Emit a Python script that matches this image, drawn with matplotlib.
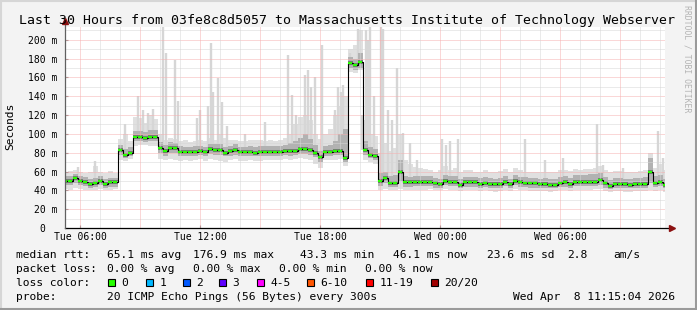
import matplotlib
matplotlib.use("Agg")
import matplotlib.pyplot as plt
import numpy as np
from matplotlib.lines import Line2D
from matplotlib.patches import Rectangle

plt.rcParams['font.family'] = 'DejaVu Sans Mono'

# sample times: hours since Tue 00:00, one sample every 15 min (Tue 05:15 .. Wed 11:15)
t = 5.25 + 0.25 * np.arange(121)

# median rtt (ms)
med = [50, 50, 53, 50, 49, 47, 47.5, 50, 47, 48.5, 48.5,
       83, 78, 80, 97, 97, 95.5, 97, 97, 85, 82,
       85, 85, 81, 81, 81, 81, 82, 80.6, 84, 83,
       83, 80, 82, 83, 80.6, 80.6, 81, 80, 81, 81,
       81, 81, 81, 82, 82, 82, 84, 84, 83, 80,
       75, 81, 81, 82, 82, 74, 175, 173, 176, 83,
       78, 76, 50, 53, 48, 48, 60, 48.5, 48.5, 49,
       49, 49, 49, 47.5, 46.5, 50, 49, 49, 46, 48.5,
       48.5, 48.5, 47, 48, 47, 46.5, 47, 49, 46.5, 50,
       48.6, 48, 47.5, 47.5, 46.5, 47, 46, 46, 48, 48.6,
       47, 49, 49, 49, 49, 49, 51, 47.5, 45, 47,
       47, 46.5, 46, 47, 47, 47, 60, 48, 49, 46]

# dark smoke band around the median
core_lo = [46, 46, 48, 46, 45, 43, 44, 46, 43, 44, 44,
           78, 74, 76, 92, 92, 91, 92, 92, 80, 77,
           80, 80, 77, 77, 77, 77, 78, 76, 79, 78,
           78, 76, 77, 78, 76, 76, 77, 76, 77, 77,
           77, 77, 77, 78, 77, 78, 79, 79, 78, 75,
           70, 77, 77, 78, 78, 70, 170, 168, 170, 78,
           74, 72, 45, 48, 44, 44, 50, 44, 44, 45,
           45, 45, 45, 43, 43, 46, 45, 45, 42, 44,
           44, 44, 43, 44, 43, 42, 43, 45, 42, 46,
           44, 44, 43, 43, 42, 43, 42, 42, 44, 44,
           43, 45, 45, 45, 45, 45, 46, 43, 41, 43,
           43, 42, 42, 43, 43, 43, 48, 44, 45, 42]
core_hi = [55, 55, 57, 55, 54, 52, 53, 55, 52, 53, 53,
           88, 84, 86, 103, 103, 102, 104, 104, 91, 88,
           91, 90, 87, 86, 86, 87, 87, 86, 89, 89,
           89, 86, 87, 89, 86, 86, 87, 86, 87, 87,
           87, 87, 87, 88, 90, 92, 96, 100, 95, 88,
           82, 87, 88, 92, 100, 105, 182, 180, 186, 92,
           86, 84, 58, 60, 55, 56, 72, 55, 54, 55,
           55, 55, 55, 53, 52, 56, 55, 55, 52, 54,
           54, 54, 53, 54, 53, 52, 53, 55, 52, 56,
           54, 54, 53, 53, 52, 53, 52, 52, 54, 55,
           53, 56, 56, 56, 57, 57, 58, 54, 51, 53,
           53, 52, 52, 53, 53, 54, 74, 55, 56, 52]

# light smoke: lowest and (non spike) highest ping
smoke_lo = [41, 40, 42, 41, 40, 40, 40, 41, 40, 40, 41,
            72, 71, 73, 87, 88, 88, 87, 87, 73, 72,
            73, 72, 71, 72, 71, 72, 73, 71, 73, 72,
            71, 70, 72, 73, 71, 71, 72, 71, 71, 72,
            72, 72, 72, 73, 72, 73, 74, 73, 72, 68,
            64, 72, 72, 72, 73, 66, 166, 165, 168, 72,
            70, 68, 40, 41, 40, 40, 41, 40, 40, 40,
            40, 40, 41, 40, 40, 41, 40, 40, 39, 40,
            40, 40, 39, 40, 39, 38, 39, 40, 39, 41,
            40, 40, 39, 39, 39, 39, 38, 39, 40, 40,
            39, 40, 40, 40, 40, 41, 41, 39, 38, 39,
            39, 38, 38, 39, 39, 39, 40, 39, 40, 38]
smoke_hi = [58, 61, 62, 60, 58, 60, 66, 59, 58, 61, 58,
            95, 100, 92, 118, 117, 112, 120, 116, 100, 94,
            96, 95, 92, 93, 91, 92, 93, 92, 96, 94,
            100, 96, 94, 93, 92, 92, 93, 93, 94, 92,
            93, 92, 94, 96, 100, 110, 118, 120, 115, 100,
            95, 100, 105, 120, 130, 140, 190, 195, 210, 115,
            100, 98, 80, 90, 82, 85, 100, 72, 68, 65,
            64, 63, 62, 60, 62, 66, 62, 64, 60, 62,
            62, 60, 60, 62, 60, 60, 61, 63, 60, 64,
            62, 60, 60, 59, 60, 60, 59, 60, 62, 62,
            61, 63, 62, 63, 63, 64, 66, 62, 60, 61,
            61, 60, 60, 60, 61, 62, 80, 64, 68, 62]

# single-ping outliers (spikes)
spike_t = [5.9, 6.75, 8.25, 8.9, 9.15, 9.4, 9.65, 10.15, 10.3, 10.75, 10.9,
           11.85, 12.0, 12.4, 12.55, 12.65, 12.9, 13.1, 13.35, 14.25, 15.25,
           16.4, 16.6, 16.8, 17.25, 17.4, 17.55, 17.75, 18.1, 18.75, 18.9,
           19.05, 19.15, 19.5, 19.9, 20.1, 20.3, 20.4, 20.5, 20.7, 21.05,
           21.15, 21.4, 21.6, 21.85, 22.15, 22.5, 22.85, 24.1, 24.3, 24.5,
           24.9, 28.25, 29.25, 30.15, 31.85, 32.15, 33.15, 34.9, 35.15]
spike_top = [65, 71, 110, 140, 125, 122, 126, 214, 186, 179, 135,
             117, 125, 130, 197, 145, 159, 134, 108, 100, 113,
             184, 141, 120, 163, 168, 150, 160, 195, 125, 150,
             145, 152, 186, 212, 120, 210, 200, 214, 140, 214,
             212, 125, 115, 170, 101, 90, 72, 95, 88, 92,
             95, 95, 72, 74, 111, 67, 64, 103, 74]
spike_lo = [50, 48, 80, 97, 96, 96, 97, 85, 82, 85, 83,
            81, 82, 82, 84, 83, 83, 83, 81, 81, 81,
            82, 82, 82, 84, 84, 83, 80, 78, 82, 82,
            82, 82, 175, 176, 83, 83, 80, 78, 76, 50,
            52, 48, 48, 60, 48, 48, 49, 47, 49, 49,
            46, 48, 47, 48, 50, 48, 46, 48, 46]

xtick_pos = [6, 12, 18, 24, 30]
xtick_labels = ['Tue 06:00', 'Tue 12:00', 'Tue 18:00', 'Wed 00:00', 'Wed 06:00']
ytick_pos = [0, 20, 40, 60, 80, 100, 120, 140, 160, 180, 200]
ytick_labels = ['0  ', '20 m', '40 m', '60 m', '80 m', '100 m', '120 m',
                '140 m', '160 m', '180 m', '200 m']

loss_labels = ['0', '1', '2', '3', '4-5', '6-10', '11-19', '20/20']
loss_colors = ['#26ff00', '#00b8ff', '#0059ff', '#5e00ff', '#ff00ff',
               '#ff5500', '#ff0000', '#a10000']

W, H = 697, 310
fig = plt.figure(figsize=(W / 100, H / 100), dpi=100)
fig.patch.set_facecolor('#f3f3f3')
ax = fig.add_axes([65 / W, 82 / H, 600 / W, 201 / H])
ax.set_facecolor('white')


def fx(x):
    return x / W


def fy(y):
    return 1 - y / H


# smoke
ax.fill_between(t, smoke_lo, smoke_hi, step='mid', color='#e0e0e0', lw=0, zorder=1)
ax.vlines(spike_t, spike_lo, spike_top, color='#d6d6d6', lw=1.7, zorder=1)
ax.fill_between(t, core_lo, core_hi, step='mid', color='#b2b2b2', lw=0, zorder=2)
ax.hlines(med, t - 0.125, t + 0.125, color='#6a6a6a', lw=2.6, zorder=2.5)

# grid
for v in range(10, 214, 10):
    c = '#f7b0b0' if v % 20 == 0 else '#d6d6d6'
    ax.axhline(v, color=c, lw=0.72, ls=(0, (1, 1)), zorder=3)
for h in range(6, 36):
    c = '#f7b0b0' if h % 3 == 0 else '#d6d6d6'
    ax.axvline(h, color=c, lw=0.72, ls=(0, (1, 1)), zorder=3)

# median
ax.plot(t, med, drawstyle='steps-mid', color='black', lw=0.8, zorder=5)
ax.hlines(med, t - 0.09, t + 0.09, color=loss_colors[0], lw=1.6, zorder=6)

ax.set_xlim(5.25, 35.25)
ax.set_ylim(0, 213.6)
ax.set_xticks(xtick_pos)
ax.set_xticklabels(xtick_labels)
ax.set_yticks(ytick_pos)
ax.set_yticklabels(ytick_labels)
ax.tick_params(axis='x', direction='in', length=2, pad=2.7, labelsize=7, color='#808080')
ax.tick_params(axis='y', direction='in', length=2, pad=5.2, labelsize=7, color='#808080')
for s in ['top', 'right', 'left', 'bottom']:
    ax.spines[s].set_visible(False)

# axes with arrows
ax.plot([0, 1.012], [0, 0], transform=ax.transAxes, color='black', lw=0.9,
        clip_on=False, zorder=7)
ax.plot([0, 0], [0, 1.03], transform=ax.transAxes, color='#606060', lw=0.9,
        clip_on=False, zorder=7)
ax.plot([1.012], [0], marker='>', ms=4, color='#8b1010', transform=ax.transAxes,
        clip_on=False, zorder=8)
ax.plot([0], [1.03], marker='^', ms=4, color='#8b1010', transform=ax.transAxes,
        clip_on=False, zorder=8)

fig.text(fx(10.5), fy(126), 'Seconds', rotation=90, ha='center', va='center', fontsize=8.1)
fig.text(fx(347), fy(24), 'Last 30 Hours from 03fe8c8d5057 to Massachusetts '
         'Institute of Technology Webserver', ha='center', va='baseline', fontsize=9.5)
fig.text(fx(687.5), fy(5), 'RRDTOOL / TOBI OETIKER', rotation=-90, ha='center',
         va='top', fontsize=5.9, color='#b4b4b4')

fs = 8.1
rows = [
    (258, [(16, 'median rtt:'), (107, '65.1 ms avg'), (193, '176.9 ms max'),
           (300, '43.3 ms min'), (393, '46.1 ms now'), (487, '23.6 ms sd'),
           (567, '2.8'), (613, 'am/s')]),
    (272, [(16, 'packet loss:'), (107, '0.00 % avg'), (193, '0.00 % max'),
           (279, '0.00 % min'), (365, '0.00 % now')]),
    (286, [(16, 'loss color:')]),
    (300, [(16, 'probe:'), (107, '20 ICMP Echo Pings (56 Bytes) every 300s'),
           (513, 'Wed Apr  8 11:15:04 2026')]),
]
for yb, items in rows:
    for xp, s in items:
        fig.text(fx(xp), fy(yb), s, ha='left', va='baseline', fontsize=fs)

box_x = [108, 146, 183, 219, 257, 307, 366, 431]
for bx, lab, col in zip(box_x, loss_labels, loss_colors):
    fig.patches.append(Rectangle((fx(bx), fy(286)), 7 / W, 7 / H, transform=fig.transFigure,
                                 facecolor=col, edgecolor='black', lw=0.8))
    fig.text(fx(bx + 13.5), fy(286), lab, ha='left', va='baseline', fontsize=fs)

# 3d border
fig.add_artist(Line2D([0, 1], [1 - 1 / H, 1 - 1 / H], color='#d6d6d6', lw=1.5))
fig.add_artist(Line2D([1 / W, 1 / W], [0, 1], color='#d6d6d6', lw=1.5))
fig.add_artist(Line2D([0, 1], [1 / H, 1 / H], color='#9a9a9a', lw=1.5))
fig.add_artist(Line2D([1 - 1 / W, 1 - 1 / W], [0, 1], color='#9a9a9a', lw=1.5))

fig.savefig('out.png', dpi=100, facecolor=fig.get_facecolor())
